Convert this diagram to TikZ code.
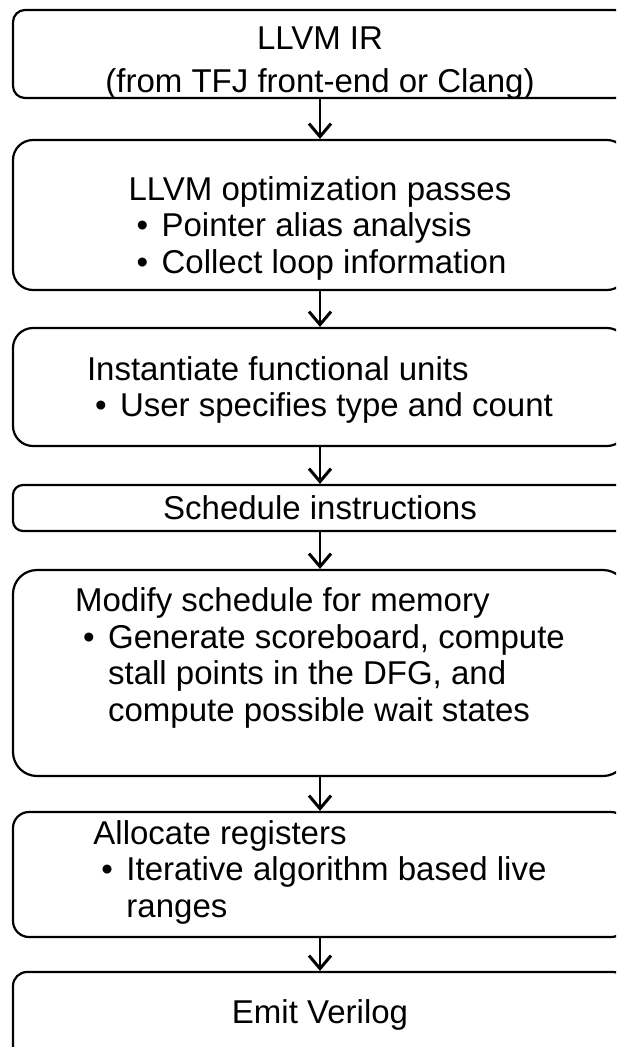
\documentclass[tikz,border=0pt]{standalone}
\usepackage{fontspec}
\setmainfont{Liberation Sans}
\usetikzlibrary{arrows.meta}
% bullet with hanging indent, and continuation indent
\newcommand\bul{\hspace*{8pt}\makebox[25pt][l]{•}}
\newcommand\cont{\hspace*{33pt}}
\begin{document}
\begin{tikzpicture}[x=1pt,y=-1pt,
  stage/.style={draw, line width=2.2pt, inner sep=0pt, minimum width=614pt},
  txt/.style={inner sep=0pt, align=left, font=\fontsize{33}{36.5}\selectfont},
  flow/.style={line width=1.5pt,
    -{Straight Barb[length=13pt,width=22pt,line width=3pt]}}]
\useasboundingbox (0,0) rectangle (616,1047);
\clip (0,0) rectangle (616,1047);

% stage boxes (right side runs past the page edge)
\node[stage, rounded corners=12pt, minimum height=88pt]  (ir)    at (320,54)    {};
\node[stage, rounded corners=20pt, minimum height=150pt] (opt)   at (320,215)   {};
\node[stage, rounded corners=20pt, minimum height=118pt] (fu)    at (320,387)   {};
\node[stage, rounded corners=10pt, minimum height=46pt]  (sched) at (320,508)   {};
\node[stage, rounded corners=24pt, minimum height=206pt] (mem)   at (320,673)   {};
\node[stage, rounded corners=16pt, minimum height=125pt] (reg)   at (320,874.5) {};
\node[stage, rounded corners=14pt, minimum height=88pt]  (emit)  at (320,1016)  {};

% stage texts
\node[txt, align=center] (irt) at (320,63)
  {LLVM IR\\[6.5pt](from TFJ front-end or Clang)};
\node[txt] (optt) at (320,228)
  {LLVM optimization passes\\\bul Pointer alias analysis\\\bul Collect loop information};
\node[txt] (fut) at (320,390)
  {Instantiate functional units\\\bul User specifies type and count};
\node[txt] (schedt) at (320,508)
  {Schedule instructions};
\node[txt] (memt) at (320,658)
  {Modify schedule for memory\\\bul Generate scoreboard, compute\\\cont stall points in the DFG, and\\\cont compute possible wait states};
\node[txt] (regt) at (320,872)
  {Allocate registers\\\bul Iterative algorithm based live\\\cont ranges};
\node[txt] (emitt) at (320,1015)
  {Emit Verilog};

% flow arrows
\draw[flow] (ir) -- (opt);
\draw[flow] (opt) -- (fu);
\draw[flow] (fu) -- (sched);
\draw[flow] (sched) -- (mem);
\draw[flow] (mem) -- (reg);
\draw[flow] (reg) -- (emit);
\end{tikzpicture}
\end{document}
